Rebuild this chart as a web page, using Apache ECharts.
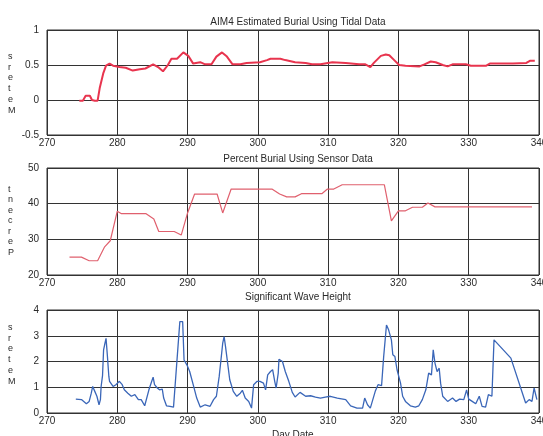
<!DOCTYPE html>
<html>
<head>
<meta charset="utf-8">
<script src="https://cdn.jsdelivr.net/npm/echarts@6/dist/echarts.min.js"></script>
<style>
  html, body { margin: 0; padding: 0; background: #fff; }
  #main { width: 543px; height: 436px; }
</style>
</head>
<body>
<div id="main"></div>
<script>
// x axis ticks (day of year)
var dayTicks = [270, 280, 290, 300, 310, 320, 330, 340];

// AIM4 estimated burial from tidal data (metres)
var tideDays = [274.6, 275.1, 275.5, 276.1, 276.4, 276.8, 277.2, 277.5, 278.0, 278.4, 278.9, 279.4, 280.3, 281.2,
  282.2, 283.2, 284.0, 285.1, 285.8, 286.5, 287.2, 287.7, 288.5, 289.4, 290.1, 290.8, 291.8, 292.5, 293.4,
  294.1, 294.9, 295.6, 296.4, 297.5, 298.4, 300.3, 301.3, 301.8, 303.2, 303.9, 305.3, 306.8, 307.7, 308.9,
  309.1, 310.6, 312.5, 314.4, 315.3, 316.0, 316.5, 317.5, 318.2, 318.7, 319.4, 320.1, 321.0, 323.0, 323.7,
  324.6, 325.3, 326.3, 327.0, 327.7, 329.6, 330.3, 332.5, 333.0, 336.3, 338.2, 338.7, 339.4];
var tideBurial = [-0.01, -0.01, 0.06, 0.06, 0.0, -0.01, -0.01, 0.17, 0.38, 0.49, 0.52, 0.49, 0.47, 0.46,
  0.42, 0.44, 0.45, 0.51, 0.47, 0.41, 0.50, 0.59, 0.59, 0.68, 0.63, 0.52, 0.54, 0.51, 0.51,
  0.62, 0.68, 0.62, 0.51, 0.51, 0.53, 0.54, 0.57, 0.59, 0.59, 0.57, 0.54, 0.53, 0.51, 0.51,
  0.50, 0.54, 0.53, 0.51, 0.51, 0.47, 0.53, 0.63, 0.65, 0.64, 0.57, 0.50, 0.49, 0.48, 0.51,
  0.55, 0.54, 0.50, 0.48, 0.51, 0.51, 0.49, 0.49, 0.52, 0.52, 0.53, 0.56, 0.56];

// percent burial from sensor data
var sensorDays = [273.2, 274.9, 276.0, 277.2, 278.2, 279.0, 280.0, 280.6, 284.1, 285.2, 285.9, 288.1, 289.1,
  290.0, 291.0, 294.2, 295.0, 296.2, 302.0, 303.1, 304.1, 305.3, 306.2, 309.1, 309.9, 310.8, 312.0, 318.0,
  319.0, 320.0, 321.0, 322.0, 323.4, 324.2, 325.2, 339.0];
var sensorBurial = [25.0, 25.0, 24.0, 24.0, 27.9, 29.6, 37.9, 37.2, 37.2, 35.7, 32.2, 32.2, 31.2,
  37.4, 42.7, 42.7, 37.4, 44.1, 44.1, 42.7, 41.9, 41.9, 42.8, 42.8, 44.1, 44.1, 45.3, 45.3,
  35.2, 38.0, 38.0, 39.0, 39.0, 40.2, 39.1, 39.1];

// significant wave height (metres)
var waveDays = [274.1, 274.9, 275.6, 276.0, 276.3, 276.5, 276.8, 277.1, 277.4, 277.6, 277.7, 277.9, 278.05,
  278.2, 278.4, 278.6, 278.8, 278.9, 279.1, 279.4, 279.8, 280.3, 280.7, 281.0, 281.5, 282.0, 282.5, 283.0,
  283.4, 283.9, 284.1, 284.5, 284.9, 285.1, 285.3, 285.7, 286.0, 286.4, 286.6, 287.0, 287.5, 288.0, 288.9,
  289.3, 289.5, 289.9, 290.3, 290.8, 291.3, 291.8, 292.5, 293.2, 293.7, 294.1, 294.5, 294.8, 295.0, 295.2,
  295.4, 295.7, 296.0, 296.5, 297.0, 297.5, 297.8, 298.2, 298.7, 299.1, 299.4, 299.9, 300.3, 300.8, 301.1,
  301.4, 301.8, 302.1, 302.4, 302.6, 302.9, 303.0, 303.5, 303.9, 304.4, 304.9, 305.3, 306.0, 306.8, 307.5,
  308.2, 308.9, 309.6, 310.3, 311.3, 312.5, 313.2, 314.1, 314.9, 315.2, 315.6, 316.0, 316.7, 317.1, 317.6,
  317.9, 318.3, 318.6, 319.0, 319.2, 319.5, 319.8, 320.05, 320.3, 320.6, 321.0, 321.7, 322.4, 322.9, 323.4,
  323.9, 324.3, 324.7, 324.95, 325.2, 325.5, 325.8, 326.0, 326.3, 327.0, 327.7, 328.2, 328.7, 329.3, 329.7,
  330.0, 330.5, 331.0, 331.5, 331.9, 332.4, 332.8, 333.3, 333.6, 336.0, 338.1, 338.6, 339.0, 339.3, 339.7];
var waveHeight = [0.54, 0.52, 0.36, 0.45, 0.77, 1.03, 0.84, 0.65, 0.32, 0.52, 1.03, 1.45, 2.45,
  2.65, 2.90, 2.19, 1.42, 1.23, 1.29, 1.03, 1.10, 1.23, 1.10, 0.90, 0.77, 0.65, 0.71, 0.52,
  0.52, 0.28, 0.26, 0.90, 1.23, 1.39, 1.10, 0.97, 0.90, 0.93, 0.58, 0.28, 0.26, 0.23, 3.55,
  3.55, 2.06, 1.87, 1.61, 1.10, 0.58, 0.23, 0.32, 0.26, 0.52, 0.65, 1.42, 2.19, 2.71, 2.97,
  2.58, 1.94, 1.29, 0.84, 0.65, 0.77, 0.88, 0.58, 0.45, 0.19, 1.10, 1.23, 1.23, 1.16, 0.90,
  1.48, 1.61, 1.68, 1.23, 0.97, 1.55, 2.09, 2.00, 1.61, 1.23, 0.80, 0.62, 0.80, 0.65, 0.67,
  0.62, 0.58, 0.62, 0.65, 0.58, 0.52, 0.28, 0.19, 0.19, 0.58, 0.32, 0.19, 0.84, 1.10, 1.06,
  2.19, 3.42, 3.23, 2.84, 2.26, 2.19, 1.68, 1.61, 1.16, 0.65, 0.45, 0.28, 0.23, 0.28, 0.52,
  0.90, 1.55, 1.48, 2.45, 1.94, 1.61, 1.74, 1.16, 0.65, 0.45, 0.58, 0.45, 0.54, 0.52, 0.90,
  0.54, 0.45, 0.36, 0.65, 0.26, 0.23, 0.71, 0.65, 2.84, 2.13, 0.39, 0.52, 0.45, 0.97, 0.52];

function pairs(xs, ys) {
  return xs.map(function (x, i) { return [x, ys[i]]; });
}

var chart = echarts.init(document.getElementById('main'), null, { renderer: 'canvas' });

var ink = '#2a2a2a';
var font = 'Liberation Sans, Arial, sans-serif';

function xAxisFor(idx) {
  return {
    type: 'value', gridIndex: idx, min: 270, max: 340, interval: 10,
    axisLine: { show: false },
    axisTick: { show: false },
    axisLabel: { color: ink, fontSize: 10, fontFamily: font, margin: 3 },
    splitLine: { show: true, lineStyle: { color: '#333', width: 1 } }
  };
}
function yAxisFor(idx, min, max, step) {
  return {
    type: 'value', gridIndex: idx, min: min, max: max, interval: step,
    axisLine: { show: false },
    axisTick: { show: false },
    axisLabel: { color: ink, fontSize: 10, fontFamily: font, margin: 8 },
    splitLine: { show: true, lineStyle: { color: '#333', width: 1 } }
  };
}

var gridBase = {
  left: 47, right: 4, show: true, borderColor: '#333', borderWidth: 1,
  backgroundColor: 'transparent', outerBoundsMode: 'none', containLabel: false
};

var option = {
  backgroundColor: '#fff',
  animation: false,
  title: [
    { text: 'AIM4 Estimated Burial Using Tidal Data', left: 293, top: 12, textAlign: 'center',
      textStyle: { fontSize: 10, fontWeight: 'normal', color: ink, fontFamily: font } },
    { text: 'Percent Burial Using Sensor Data', left: 293, top: 149, textAlign: 'center',
      textStyle: { fontSize: 10, fontWeight: 'normal', color: ink, fontFamily: font } },
    { text: 'Significant Wave Height', left: 293, top: 287, textAlign: 'center',
      textStyle: { fontSize: 10, fontWeight: 'normal', color: ink, fontFamily: font } }
  ],
  grid: [
    Object.assign({ top: 30, height: 105 }, gridBase),
    Object.assign({ top: 168, height: 107 }, gridBase),
    Object.assign({ top: 310, height: 103 }, gridBase)
  ],
  xAxis: [xAxisFor(0), xAxisFor(1), xAxisFor(2)],
  yAxis: [yAxisFor(0, -0.5, 1, 0.5), yAxisFor(1, 20, 50, 10), yAxisFor(2, 0, 4, 1)],
  graphic: [
    { type: 'text', left: 8, top: 51, style: { text: 's\nr\ne\nt\ne\nM', font: '9px ' + font, fill: ink, lineHeight: 10.8, align: 'center' } },
    { type: 'text', left: 8, top: 184, style: { text: 't\nn\ne\nc\nr\ne\nP', font: '9px ' + font, fill: ink, lineHeight: 10.5, align: 'center' } },
    { type: 'text', left: 8, top: 322, style: { text: 's\nr\ne\nt\ne\nM', font: '9px ' + font, fill: ink, lineHeight: 10.8, align: 'center' } },
    { type: 'text', left: 272, top: 430, style: { text: 'Day Date', font: '10px ' + font, fill: ink } }
  ],
  series: [
    {
      type: 'line', xAxisIndex: 0, yAxisIndex: 0, showSymbol: false,
      data: pairs(tideDays, tideBurial),
      lineStyle: { color: '#e8344e', width: 2 }
    },
    {
      type: 'line', xAxisIndex: 1, yAxisIndex: 1, showSymbol: false,
      data: pairs(sensorDays, sensorBurial),
      lineStyle: { color: '#e0606e', width: 1.2 }
    },
    {
      type: 'line', xAxisIndex: 2, yAxisIndex: 2, showSymbol: false,
      data: pairs(waveDays, waveHeight),
      lineStyle: { color: '#3a66b8', width: 1.3 }
    }
  ]
};

chart.setOption(option);
</script>
</body>
</html>
